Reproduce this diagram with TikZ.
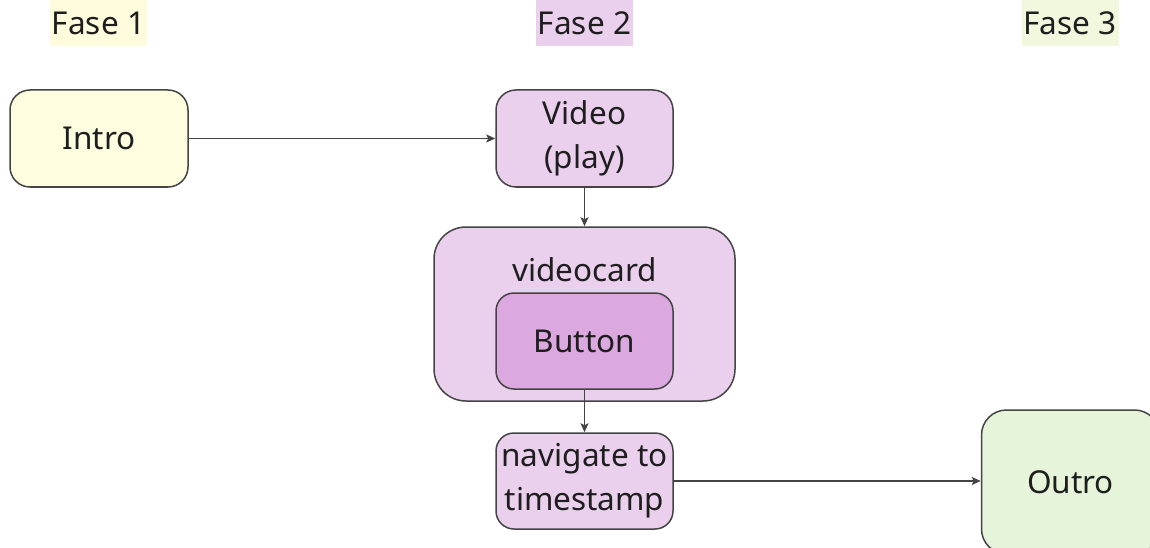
\documentclass[tikz,border=0pt]{standalone}
\usepackage{fontspec}
\setmainfont{Noto Sans}
\usetikzlibrary{arrows.meta}

\definecolor{edgegray}{HTML}{444444}
\definecolor{textgray}{HTML}{1E1E1E}
\definecolor{phaseyellow}{HTML}{FEFCDD}
\definecolor{phasepurple}{HTML}{EBD0EE}
\definecolor{phasegreen}{HTML}{F1F8DD}
\definecolor{introfill}{HTML}{FFFDE0}
\definecolor{videofill}{HTML}{EBD0EE}
\definecolor{buttonfill}{HTML}{DBA8DF}
\definecolor{outrofill}{HTML}{E6F4DA}

\tikzset{
  every node/.style={text=textgray, font=\fontsize{31.5}{44}\selectfont},
  phaselabel/.style={inner sep=0pt, minimum width=97pt, minimum height=46pt},
  stepbox/.style={draw=edgegray, line width=1.5pt, rounded corners=20pt,
    inner sep=0pt, align=center, minimum width=177pt, minimum height=97pt},
  groupbox/.style={draw=edgegray, line width=1.5pt, rounded corners=32pt,
    fill=videofill, inner sep=0pt, minimum width=301pt, minimum height=174pt},
  flow/.style={draw=edgegray, line width=1.4pt,
    -{Stealth[length=9pt, width=8pt, inset=2pt]}}
}

\begin{document}
\begin{tikzpicture}[x=1pt, y=-1pt]
  \useasboundingbox (0,0) rectangle (1150,548);
  \clip (0,0) rectangle (1150,548);

  % phase headings
  \node[phaselabel, fill=phaseyellow] (f1) at (98.5,23) {Fase 1};
  \node[phaselabel, fill=phasepurple] (f2) at (584.5,23) {Fase 2};
  \node[phaselabel, fill=phasegreen]  (f3) at (1070,23) {Fase 3};

  % steps
  \node[stepbox, fill=introfill, minimum width=178pt] (intro) at (99,138.5) {Intro};
  \node[stepbox, fill=videofill] (video) at (584.5,138.5) {Video\\(play)};

  \node[groupbox] (card) at (584.5,314) {};
  \node (cardlabel) at (584.5,270) {videocard};
  \node[stepbox, fill=buttonfill, rounded corners=18pt, minimum height=96pt] (button) at (584.5,341) {Button};

  \node[stepbox, fill=videofill, rounded corners=18pt, minimum height=96pt] (nav) at (584.5,481) {navigate to\\timestamp};
  \node[stepbox, fill=outrofill, rounded corners=25pt, minimum width=178pt, minimum height=144pt] (outro) at (1070.5,482) {Outro};

  % connectors
  \draw[flow] (intro) -- (video);
  \draw[flow] (video) -- (card);
  \draw[flow] (button) -- (nav);
  \draw[flow] (nav.east) -- (nav.east -| outro.west);
\end{tikzpicture}
\end{document}
